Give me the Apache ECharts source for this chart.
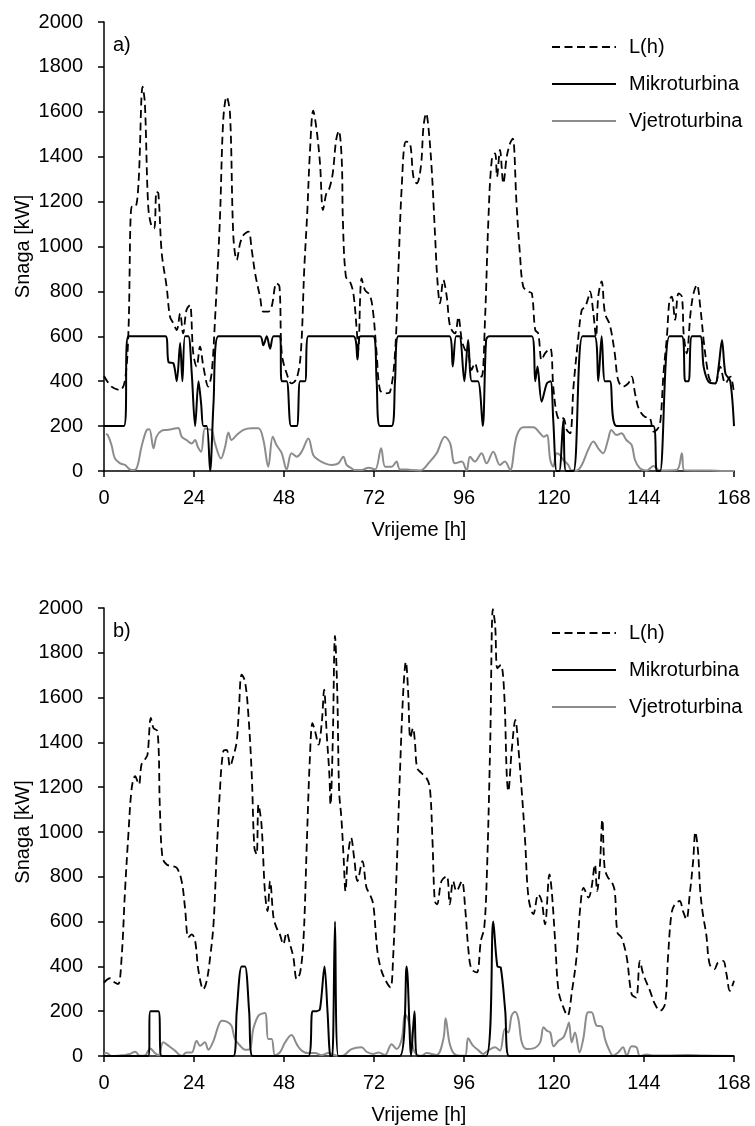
<!DOCTYPE html>
<html>
<head>
<meta charset="utf-8">
<script src="https://cdn.jsdelivr.net/npm/echarts@6/dist/echarts.min.js"></script>
<style>
  html, body { margin: 0; padding: 0; background: #fff; }
  #chart { width: 755px; height: 1126px; }
</style>
</head>
<body>
<div id="chart"></div>
<script>
// Weekly power profile (168 h) for two operating cases, a) and b)
const hourMax = 168;
const hourStep = 24;
const kwMax = 2000;
const kwStep = 200;
const seriesNames = ['L(h)', 'Mikroturbina', 'Vjetroturbina'];
const panelLabels = ['a)', 'b)'];
const xAxisTitle = 'Vrijeme [h]';
const yAxisTitle = 'Snaga [kW]';

// Case a) — [hour, kW]
const loadA = [[0,423],[2,376],[4.3,361],[5.6,405],[6.5,613],[7.4,1177],[8.3,1177],[9.2,1281],[10.3,1712],[10.9,1638],[11.8,1177],[12.7,1088],[13.4,1081],[14,1244],[14.5,1237],[15.4,970],[16.7,821],[17.6,687],[18.5,658],[19.4,628],[20.3,702],[21.1,613],[22,717],[22.9,739],[23.8,524],[24.7,465],[25.6,554],[26.5,465],[27.8,376],[28.7,435],[29.6,673],[30.9,1118],[31.8,1564],[32.7,1667],[33.6,1593],[34.5,1044],[35.4,940],[36.3,1014],[37.2,1051],[38.5,1066],[39.4,984],[40.3,880],[41.6,777],[42.5,710],[43.8,710],[44.7,732],[46,836],[46.8,821],[47.4,524],[48.7,435],[50,390],[51.4,413],[52.5,530],[53.4,900],[54.2,1150],[54.9,1415],[55.8,1605],[56.7,1519],[57.6,1370],[58.4,1163],[59.3,1237],[60.1,1259],[61,1326],[61.9,1474],[62.6,1515],[63.4,1385],[63.7,1118],[64.5,866],[65.6,843],[66.5,791],[67.4,628],[67.8,539],[68.7,858],[69.6,806],[70.9,784],[71.8,702],[72.7,524],[73.6,361],[75,346],[76.3,353],[77.6,524],[78.5,895],[79.4,1267],[80.5,1467],[81.6,1460],[82.5,1311],[83.4,1281],[84.5,1356],[85.2,1534],[85.9,1593],[86.5,1534],[87.4,1341],[88.3,1044],[88.9,851],[89.6,747],[90.5,851],[91.4,777],[92.3,643],[93.6,613],[94.5,687],[95.4,584],[96.3,539],[97.2,517],[98,450],[98.9,480],[99.8,435],[100.7,420],[101.6,673],[102.5,1118],[103.4,1385],[104.3,1415],[104.8,1311],[105.6,1430],[106.5,1281],[107.4,1400],[108.3,1460],[109,1480],[110,1192],[110.9,970],[111.8,821],[113.2,799],[114.1,791],[115,628],[115.8,613],[116.7,494],[117.6,524],[119,546],[119.8,376],[120.7,257],[121.6,227],[122.5,235],[123.4,183],[124.3,168],[125.2,376],[126.5,598],[127.4,717],[128.3,732],[129.1,769],[129.6,800],[130.5,702],[131.2,598],[131.8,777],[132.7,845],[133.6,702],[134.9,650],[136.2,524],[137.1,405],[138.4,376],[139.8,390],[140.7,420],[141.6,346],[142.4,287],[143.3,257],[144.2,242],[145.6,235],[146.5,175],[147.4,183],[148.3,212],[149.2,435],[150.1,598],[150.8,762],[151.4,777],[152.3,673],[153.2,791],[154.1,777],[154.6,606],[155.4,524],[156.4,702],[157.2,791],[158.1,830],[159,732],[159.9,584],[160.8,465],[161.6,405],[163,390],[164.3,465],[165.7,390],[167,420],[168,346]];

const microA = [[0,200],[5.3,200],[6.5,600],[16.4,600],[17.2,485],[18.5,480],[19.4,400],[20.3,570],[20.9,400],[21.6,600],[22.5,600],[23.4,435],[24.3,200],[25.2,400],[25.9,300],[26.5,200],[27.4,200],[28.3,0],[29.2,300],[30.5,600],[41.6,600],[42.5,560],[43.4,600],[44.3,545],[45.2,600],[46.9,600],[47.4,400],[48.7,400],[49.9,200],[51.4,200],[52.3,400],[53.6,400],[54.5,600],[66.5,600],[67.6,497],[68.4,600],[71.8,600],[72.7,400],[73.6,200],[76.7,200],[77.6,400],[78.5,600],[92.1,600],[93,465],[93.9,600],[94.8,600],[96.1,400],[97.1,584],[98.1,400],[99.7,400],[101,200],[101.9,584],[102.7,600],[114.1,600],[115,400],[115.6,465],[116.7,309],[118.1,390],[119.1,400],[119.8,227],[120.7,0],[121.4,0],[122.5,227],[123.2,0],[125.2,0],[127.6,600],[130.8,600],[131.8,400],[132.7,600],[133.6,400],[134.9,400],[136.7,200],[146.5,200],[147.4,0],[148.3,0],[150.8,600],[154.1,600],[155,400],[155.9,400],[156.8,600],[159,600],[159.9,465],[161.2,398],[163,390],[163.9,465],[164.8,584],[165.7,435],[167,400],[168,200]];

const windA = [[0.5,165],[1,160],[2,116],[2.9,56],[4.3,34],[5.6,27],[6.5,12],[7.4,4],[8.7,12],[10,108],[11.4,183],[12.1,186],[13.2,101],[14,153],[15.4,180],[16.7,183],[18,186],[19.8,192],[20.7,153],[22,138],[23.4,123],[24.3,138],[25,108],[25.9,86],[26.9,190],[27.8,186],[28.7,183],[29.6,123],[31.2,56],[32.3,108],[33.2,171],[34,138],[35.4,160],[37.2,183],[39.4,190],[41.2,190],[42.5,138],[43.8,19],[45,153],[46,116],[47.4,79],[48.7,7],[50,79],[51.4,64],[52.7,86],[54.5,145],[55.8,71],[57.2,49],[58.9,34],[60.7,27],[62.5,34],[63.8,64],[64.7,27],[66,12],[66.9,4],[68.7,4],[70.5,15],[72.3,7],[73.9,101],[75,19],[76.7,19],[78,42],[78.9,7],[80.7,7],[82,4],[84.3,2],[86.9,42],[88.7,79],[90.9,153],[92.3,123],[93.6,34],[95.4,42],[96.7,2],[97.6,64],[98.9,42],[100.7,79],[102,34],[103.8,86],[105.6,27],[106.9,42],[108.3,4],[110,153],[111.8,195],[114.5,195],[116.3,168],[117.2,153],[118.1,160],[119,49],[119.8,19],[120.7,79],[121.6,71],[122.5,49],[123.8,27],[124.7,2],[126,2],[127.4,27],[129.1,94],[130.5,131],[131.8,101],[133.1,79],[134.4,138],[135.3,183],[136.7,160],[138,168],[139.3,138],[140.7,116],[141.6,49],[142.9,12],[144.7,2],[146.5,22],[148.3,2],[152.7,4],[154.1,79],[154.7,4],[158.1,2],[161.6,2],[165.2,0],[168,0]];

// Case b) — [hour, kW]
const loadB = [[0,328],[1.6,347],[2.9,328],[3.8,321],[4.7,440],[5.6,736],[6.5,989],[7.4,1197],[8.3,1249],[9.3,1212],[10,1301],[10.9,1323],[11.6,1345],[12.5,1509],[13.2,1464],[14.3,1449],[14.9,1108],[15.6,885],[16.7,855],[18,848],[19.4,840],[20.7,781],[21.6,662],[22.5,529],[23.4,543],[24.3,514],[25.2,380],[26.5,298],[27.4,336],[28.3,440],[29.2,588],[30,885],[30.9,1182],[31.8,1360],[32.7,1367],[33.6,1293],[34.5,1338],[35.4,1405],[36,1553],[36.7,1702],[37.6,1672],[38.5,1523],[39.4,1256],[40.1,929],[40.7,900],[41.2,1122],[42,1033],[42.9,736],[43.6,647],[44.3,781],[45.2,618],[46,573],[46.9,543],[47.8,499],[48.7,551],[49.6,499],[50.5,440],[51.4,343],[52.3,372],[53.2,520],[54.1,959],[54.9,1330],[55.6,1486],[56.3,1449],[57.2,1390],[58.1,1494],[58.7,1635],[59.4,1434],[60.1,1256],[60.4,1122],[61,1405],[61.6,1875],[62.2,1627],[62.7,1182],[63.3,1063],[63.9,885],[64.4,736],[65,885],[65.9,974],[66.7,885],[67.6,781],[68.9,870],[70,751],[70.9,722],[71.8,677],[72.9,469],[74,380],[75.4,328],[76.4,306],[77.1,440],[78,811],[78.9,1256],[79.8,1627],[80.5,1760],[81.1,1627],[81.7,1419],[82.4,1464],[82.9,1405],[83.5,1286],[84.6,1264],[86,1241],[86.9,1197],[87.6,959],[88.2,692],[88.8,677],[90,781],[91.4,803],[92.2,677],[93.1,781],[94,736],[95.4,781],[96.3,662],[97.2,469],[98,388],[99.4,373],[100.5,514],[101.4,573],[102.1,811],[103,1405],[103.7,1995],[104.3,1924],[104.9,1731],[105.8,1746],[106.7,1627],[107.4,1256],[107.8,1182],[108.7,1360],[109.7,1501],[110.5,1375],[111.4,1182],[112.3,959],[113.2,707],[114.5,633],[115.8,722],[116.7,692],[117.6,588],[118.8,811],[119.4,736],[120.3,514],[121.2,291],[122.5,217],[123.6,180],[124.8,291],[126,440],[127,662],[127.9,751],[129.2,707],[130,751],[130.9,855],[131.5,736],[132.2,840],[132.9,1055],[133.5,840],[134.4,796],[135.3,781],[136.2,736],[136.9,551],[138,529],[139.4,440],[140.7,276],[141.9,261],[142.9,425],[143.8,365],[145.6,291],[146.9,232],[148.3,202],[149.6,232],[150.4,440],[151.3,633],[152.2,677],[153.5,692],[154.4,647],[155.3,610],[156.2,722],[157.1,870],[157.7,1000],[158.4,915],[159,736],[159.7,633],[160.6,543],[161.5,410],[162.8,388],[163.7,417],[165.1,425],[166,365],[166.9,291],[168,336]];

const microB = [[0,0],[11.8,0],[12.4,200],[14.5,200],[15.4,0],[34.5,0],[35.4,200],[36.7,400],[37.6,400],[38.7,200],[39.6,0],[54.5,0],[55.6,200],[56.7,200],[57.6,210],[58.8,400],[59.6,200],[60.4,0],[60.9,0],[61.6,600],[62.5,0],[78.9,0],[80.7,400],[81.9,0],[82.8,200],[83.6,0],[101.9,0],[103.8,600],[104.9,400],[105.8,395],[107,200],[108,0],[168,0]];

const windB = [[0,10],[0.7,13],[2,0],[3.8,1],[5.6,4],[6.9,9],[8.3,19],[9.6,1],[10.9,2],[12.3,34],[13.4,16],[14.5,3],[15.8,61],[17.2,46],[18.9,24],[20.7,0],[22,16],[23.4,16],[24.7,68],[25.6,46],[26.9,61],[27.8,28],[29.2,68],[30.5,135],[31.4,157],[32.7,153],[34,135],[34.9,76],[36.3,46],[37.6,28],[38.9,31],[39.8,120],[41.2,180],[42.9,192],[43.8,76],[44.7,76],[45.6,4],[46.9,16],[48.3,61],[50,94],[51.4,53],[52.7,24],[54.5,13],[56.3,13],[58,4],[59.8,13],[61.6,4],[63.4,0],[66,31],[68.7,39],[70,19],[71.8,9],[73.2,16],[74.9,4],[76.7,53],[78,31],[79.4,76],[80.3,187],[81.2,157],[82,76],[82.9,16],[84.7,1],[86,13],[88.7,4],[90.5,76],[91.1,168],[92.1,61],[93.2,13],[94.9,1],[96.3,1],[97.1,79],[98.4,46],[99.7,28],[101.1,9],[102.4,24],[104.3,39],[105.6,24],[106.9,120],[107.8,105],[108.7,180],[109.6,197],[110.5,165],[111.4,61],[112.7,31],[114.5,34],[116.3,61],[117.2,128],[118.1,113],[119,105],[119.9,43],[121.2,68],[122.5,83],[123.4,120],[124,150],[124.7,61],[125.6,105],[126.8,16],[127.8,76],[129.1,195],[130,195],[131.4,135],[132.7,132],[133.6,76],[134.4,39],[135.8,1],[137.1,16],[138.4,39],[139.4,1],[140.7,43],[142,39],[142.9,0],[144.7,7],[146.5,2],[150,2],[155.4,4],[160,2],[168,0]];

const panels = [
  { load: loadA, micro: microA, wind: windA },
  { load: loadB, micro: microB, wind: windB }
];

const FONT = '"Liberation Sans", Arial, sans-serif';
const INK = '#000';
const WIND_GREY = '#8c8c8c';
const gridTops = [22, 608];
const plotH = 449;

const chart = echarts.init(document.getElementById('chart'), null, { renderer: 'canvas' });

const axisLineStyle = { color: INK, width: 1.5 };
const labelText = { fontSize: 20, color: INK, fontFamily: FONT };
const plainNumber = v => String(v);

const option = {
  backgroundColor: '#fff',
  animation: false,
  grid: gridTops.map(t => ({ left: 104, right: 21, top: t, height: plotH, containLabel: false })),
  xAxis: gridTops.map((t, i) => ({
    type: 'value', gridIndex: i, min: 0, max: hourMax, interval: hourStep,
    name: xAxisTitle, nameLocation: 'middle', nameGap: 49,
    nameTextStyle: labelText,
    axisLine: { onZero: false, lineStyle: axisLineStyle },
    axisTick: { show: true, length: 6, lineStyle: axisLineStyle },
    axisLabel: Object.assign({ margin: 17, formatter: plainNumber }, labelText),
    splitLine: { show: false }
  })),
  yAxis: gridTops.map((t, i) => ({
    type: 'value', gridIndex: i, min: 0, max: kwMax, interval: kwStep,
    name: yAxisTitle, nameLocation: 'middle', nameGap: 71, nameMoveOverlap: false,
    nameTextStyle: labelText,
    axisLine: { show: true, lineStyle: axisLineStyle },
    axisTick: { show: true, length: 6, lineStyle: axisLineStyle },
    axisLabel: Object.assign({ margin: 21, formatter: plainNumber }, labelText),
    splitLine: { show: false }
  })),
  legend: gridTops.map(t => ({
    orient: 'vertical', left: 546, top: t + 10,
    itemWidth: 64, itemHeight: 14, itemGap: 17,
    data: seriesNames,
    selectedMode: false,
    itemStyle: { color: 'rgba(0,0,0,0)', borderWidth: 0, borderColor: 'rgba(0,0,0,0)' },
    textStyle: Object.assign({ padding: [0, 0, 0, 8] }, labelText)
  })),
  graphic: gridTops.map((t, i) => ({
    type: 'text', left: 113, top: t + 13,
    style: { text: panelLabels[i], fontSize: 20, fill: INK, fontFamily: FONT }
  })),
  series: []
};

panels.forEach((p, i) => {
  option.series.push(
    {
      name: seriesNames[0], type: 'line', xAxisIndex: i, yAxisIndex: i,
      data: p.load, symbol: 'none', smooth: 0.35,
      lineStyle: { color: INK, width: 1.8, type: [8, 4.5] },
      itemStyle: { color: INK }, z: 3
    },
    {
      name: seriesNames[1], type: 'line', xAxisIndex: i, yAxisIndex: i,
      data: p.micro, symbol: 'none', smooth: 0.3,
      lineStyle: { color: INK, width: 2 },
      itemStyle: { color: INK }, z: 4
    },
    {
      name: seriesNames[2], type: 'line', xAxisIndex: i, yAxisIndex: i,
      data: p.wind, symbol: 'none', smooth: 0.35,
      lineStyle: { color: WIND_GREY, width: 2 },
      itemStyle: { color: WIND_GREY }, z: 2
    }
  );
});

chart.setOption(option);
</script>
</body>
</html>
